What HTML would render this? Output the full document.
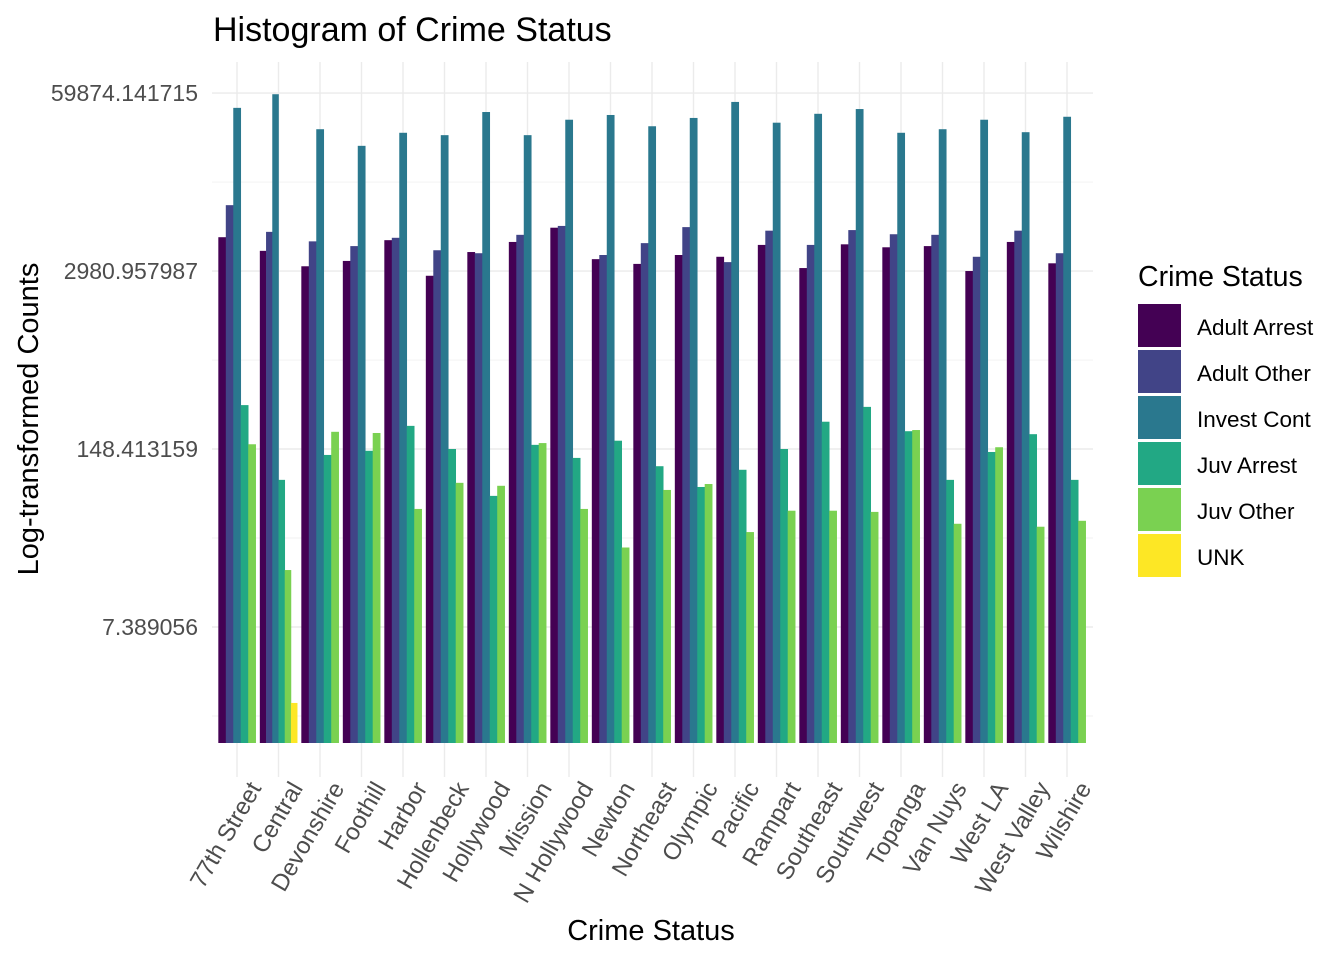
<!DOCTYPE html>
<html><head><meta charset="utf-8"><style>
body{margin:0;background:#fff;}
svg{display:block;font-family:"Liberation Sans",Arial,sans-serif;}
</style></head><body>
<svg id="chart" width="1344" height="960">
<text x="213" y="41" font-size="34" fill="#000">Histogram of Crime Status</text>
<g id="grid"></g><g id="bars"></g><g id="ylabels"></g><g id="xlabels"></g>
<text transform="translate(38,419) rotate(-90)" text-anchor="middle" font-size="29" fill="#000">Log-transformed Counts</text>
<text x="651" y="940" text-anchor="middle" font-size="29" fill="#000">Crime Status</text>
<g id="legend"></g>
</svg>
<script>
const categories=["77th Street","Central","Devonshire","Foothill","Harbor","Hollenbeck","Hollywood","Mission","N Hollywood","Newton","Northeast","Olympic","Pacific","Rampart","Southeast","Southwest","Topanga","Van Nuys","West LA","West Valley","Wilshire"];
const seriesNames=["Adult Arrest","Adult Other","Invest Cont","Juv Arrest","Juv Other","UNK"];
const adultArrest=[8.57,8.34,8.08,8.17,8.52,7.92,8.32,8.49,8.73,8.20,8.12,8.27,8.24,8.44,8.05,8.45,8.40,8.42,8.00,8.49,8.13];
const adultOther=[9.11,8.66,8.50,8.42,8.56,8.35,8.30,8.61,8.76,8.27,8.47,8.74,8.15,8.68,8.44,8.69,8.62,8.61,8.24,8.68,8.30];
const investCont=[10.75,10.98,10.39,10.11,10.33,10.29,10.68,10.29,10.55,10.63,10.44,10.58,10.85,10.50,10.65,10.73,10.33,10.39,10.55,10.34,10.60];
const juvArrest=[5.74,4.48,4.90,4.97,5.39,5.00,4.21,5.07,4.85,5.14,4.71,4.36,4.65,5.00,5.46,5.71,5.30,4.48,4.95,5.25,4.48];
const juvOther=[5.08,2.96,5.29,5.27,3.99,4.43,4.38,5.10,3.99,3.34,4.31,4.41,3.60,3.96,3.96,3.94,5.32,3.74,5.03,3.69,3.79];
const unk=[null,0.72,null,null,null,null,null,null,null,null,null,null,null,null,null,null,null,null,null,null,null];
const yTicks=[2,5,8,11];
const yTickLabels=["7.389056","148.413159","2980.957987","59874.141715"];
const colors=["#440154","#414487","#2A788E","#22A884","#7AD151","#FDE725"];
const series=[adultArrest,adultOther,investCont,juvArrest,juvOther,unk];
const NS="http://www.w3.org/2000/svg";
const xL=212,xR=1093,panelTop=62,panelBottom=777,base=743;
const step=41.5,x0=237;
function xScale(i){return x0+step*i;}
function yScale(v){return 627-(v-2)*59.33;}
function mk(t,a,p){const e=document.createElementNS(NS,t);for(const k in a)e.setAttribute(k,a[k]);p.appendChild(e);return e;}
const grid=document.getElementById('grid');
yTicks.forEach((t,i)=>{
  const l=mk('line',{x1:xL,x2:xR,y1:yScale(t),y2:yScale(t),stroke:'#ebebeb','stroke-width':1.4},grid);
  
  
  const m=mk('line',{x1:xL,x2:xR,y1:yScale(t-1.5),y2:yScale(t-1.5),stroke:'#f2f2f2','stroke-width':0.9},grid);
  
  
  const tx=mk('text',{x:198,y:yScale(t)+8,'text-anchor':'end','font-size':23,fill:'#4d4d4d'},document.getElementById('ylabels'));
  tx.textContent=yTickLabels[i];
  
  
});
const barsG=document.getElementById('bars');
categories.forEach((c,i)=>{
  const cx=xScale(i);
  const g=mk('line',{x1:cx,x2:cx,y1:panelTop,y2:panelBottom,stroke:'#ebebeb','stroke-width':1.4},grid);
  
  
  const present=series.map((s,k)=>k).filter(k=>series[k][i]!=null);
  const gw=step*0.9, bw=gw/present.length;
  present.forEach((k,j)=>{
    const v=series[k][i];
    const y=yScale(v);
    const r=mk('rect',{x:cx-gw/2+j*bw,y:y,width:bw+0.3,height:Math.max(0,base-y),fill:colors[k]},barsG);
    
    
  });
  const tx=mk('text',{transform:`translate(${cx+25},${788}) rotate(-60)`,'text-anchor':'end','font-size':24,fill:'#4d4d4d'},document.getElementById('xlabels'));
  tx.textContent=c;
  
  
});
const lg=document.getElementById('legend');
const lt=mk('text',{x:1138,y:286,'font-size':28.5,fill:'#000'},lg);
lt.textContent="Crime Status";


seriesNames.forEach((n,k)=>{
  const y=304+k*46;
  const r=mk('rect',{x:1138,y:y,width:43,height:43,fill:colors[k]},lg);
  
  
  const t=mk('text',{x:1197,y:y+31,'font-size':22.5,fill:'#000'},lg);
  t.textContent=n;
  
  
});
</script>
</body></html>
